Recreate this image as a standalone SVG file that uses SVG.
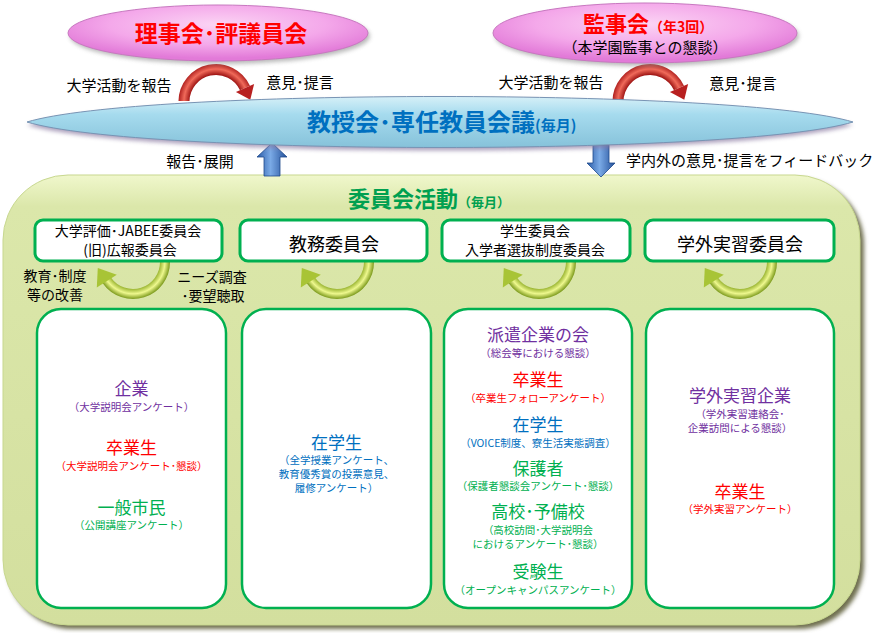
<svg xmlns="http://www.w3.org/2000/svg" xmlns:xlink="http://www.w3.org/1999/xlink" width="879" height="633" viewBox="0 0 879 633">
<style>
text{font-family:"Noto Sans CJK JP","Noto Sans",sans-serif;text-anchor:middle}
.lbl{font-size:15px;fill:#000}
.lbl2{font-size:14px;fill:#000}
.cm{font-size:14px;fill:#000}
.cm1{font-size:18px;fill:#000}
.h{font-size:17px}
.s{font-size:10.5px}
.pu{fill:#7030a0}.rd{fill:#ff0000}.bl{fill:#0070c0}.gr{fill:#00b050}
.box{fill:#fff;stroke:#00b050;stroke-width:3}
.cbox{fill:#fff;stroke:#00b050;stroke-width:2.5}
</style>
<defs>
<filter id="blur" x="-10%" y="-10%" width="120%" height="130%"><feGaussianBlur stdDeviation="2"/></filter>
<radialGradient id="pink" cx="0.5" cy="0.35" r="0.6">
<stop offset="0" stop-color="#fbd4f4"/><stop offset="0.6" stop-color="#f4a8ea"/><stop offset="1" stop-color="#e27ad8"/>
</radialGradient>
<linearGradient id="blue" x1="0" y1="0" x2="0" y2="1">
<stop offset="0" stop-color="#d6f0f8"/><stop offset="0.35" stop-color="#a6dbee"/><stop offset="1" stop-color="#86c2da"/>
</linearGradient>
<linearGradient id="panel" x1="0" y1="0" x2="0" y2="1">
<stop offset="0" stop-color="#f0f7cc"/><stop offset="0.07" stop-color="#dbe7aa"/><stop offset="1" stop-color="#d3df9e"/>
</linearGradient>
<linearGradient id="barrow" x1="0" y1="0" x2="1" y2="0">
<stop offset="0" stop-color="#2a5ca8"/><stop offset="0.45" stop-color="#7aaae6"/><stop offset="1" stop-color="#24509a"/>
</linearGradient>
<radialGradient id="rg" gradientUnits="userSpaceOnUse" cx="0" cy="0" r="38">
<stop offset="0.68" stop-color="#9a1010"/><stop offset="0.84" stop-color="#f06a5a"/><stop offset="1" stop-color="#a81818"/>
</radialGradient>
<radialGradient id="gg" gradientUnits="userSpaceOnUse" cx="0" cy="0" r="37">
<stop offset="0.7" stop-color="#8aa820"/><stop offset="0.86" stop-color="#eef88e"/><stop offset="1" stop-color="#7c9a1c"/>
</radialGradient>
<g id="redArrow">
<path d="M-32,0 A32,32 0 0 1 29,-13" fill="none" stroke="url(#rg)" stroke-width="11"/>
<polygon points="38.1,-17.1 19.9,-8.9 34.3,-1.2" fill="#b82020"/>
</g>
<g id="greenArrow">
<path d="M32,0 A32,32 0 0 1 -26.2,18.4" fill="none" stroke="url(#gg)" stroke-width="10"/>
<polygon points="-16.2,12.8 -36.2,25.4 -35.2,5.9" fill="#a8c436"/>
</g>
</defs>

<g id="panel">
<rect x="7" y="179" width="857" height="450" rx="65" fill="#6f6f50" filter="url(#blur)"/>
<rect x="3" y="175" width="857" height="450" rx="65" fill="url(#panel)" stroke="#c8d890" stroke-width="1"/>
<text x="348" y="207" style="text-anchor:start;font-size:22px;font-weight:bold;fill:#00a050">委員会活動<tspan style="font-size:13px">（毎月）</tspan></text>
</g>

<g id="connectors">
<use xlink:href="#redArrow" transform="translate(216,101)"/>
<use xlink:href="#redArrow" transform="translate(650,101)"/>
<text class="lbl" x="119" y="91">大学活動を報告</text>
<text class="lbl" x="300" y="88">意見･提言</text>
<text class="lbl" x="551" y="88">大学活動を報告</text>
<text class="lbl" x="743" y="89">意見･提言</text>
<polygon points="272,143 287,157 280,157 280,176 264,176 264,157 257,157" fill="url(#barrow)" stroke="#1e4a8c" stroke-width="0.8"/>
<polygon points="593,145 609,145 609,163 615,163 601,177 587,163 593,163" fill="url(#barrow)" stroke="#1e4a8c" stroke-width="0.8"/>
<text class="lbl" x="200" y="167">報告･展開</text>
<text class="lbl" x="626" y="166" style="text-anchor:start">学内外の意見･提言をフィードバック</text>
<use xlink:href="#greenArrow" transform="translate(133,262)"/>
<use xlink:href="#greenArrow" transform="translate(337,262)"/>
<use xlink:href="#greenArrow" transform="translate(539,262)"/>
<use xlink:href="#greenArrow" transform="translate(740,262)"/>
<text class="lbl2" x="55" y="281">教育･制度</text>
<text class="lbl2" x="55" y="300">等の改善</text>
<text class="lbl2" x="212" y="282">ニーズ調査</text>
<text class="lbl2" x="213" y="301">･要望聴取</text>
</g>

<g id="board">
<ellipse cx="220" cy="36" rx="150" ry="28" fill="#8a8a8a" opacity="0.6" filter="url(#blur)"/>
<ellipse cx="218" cy="33" rx="150" ry="28" fill="url(#pink)" stroke="#c878c0" stroke-width="1"/>
<text x="221" y="42" style="font-size:23px;font-weight:bold;fill:#ff0000">理事会･評議員会</text>
</g>

<g id="auditors">
<ellipse cx="647" cy="36" rx="152" ry="30" fill="#8a8a8a" opacity="0.6" filter="url(#blur)"/>
<ellipse cx="645" cy="33" rx="152" ry="30" fill="url(#pink)" stroke="#c878c0" stroke-width="1"/>
<text x="583" y="32" style="text-anchor:start;font-size:22px;font-weight:bold;fill:#ff0000">監事会<tspan style="font-size:14px">（年3回）</tspan></text>
<text x="645" y="53" style="font-size:15px;fill:#000">（本学園監事との懇談）</text>
</g>

<g id="faculty">
<path d="M27,125 C140,91 740,91 853,125 C740,159 140,159 27,125 Z" fill="#8878a0" opacity="0.7" filter="url(#blur)"/>
<path d="M27,122 C140,88 740,88 853,122 C740,156 140,156 27,122 Z" fill="url(#blue)" stroke="#7894b4" stroke-width="1"/>
<text x="307" y="131" style="text-anchor:start;font-size:24px;font-weight:bold;fill:#0070c0">教授会･専任教員会議<tspan style="font-size:15px">(毎月)</tspan></text>
</g>

<g id="c1">
<rect class="box" x="35" y="220" width="187" height="41" rx="8"/>
<text class="cm" x="128" y="236">大学評価･JABEE委員会</text>
<text class="cm" x="130" y="255">(旧)広報委員会</text>
</g>
<g id="c2">
<rect class="box" x="240" y="220" width="187" height="41" rx="8"/>
<text class="cm1" x="334" y="251">教務委員会</text>
</g>
<g id="c3">
<rect class="box" x="442" y="220" width="188" height="41" rx="8"/>
<text class="cm" x="535" y="236">学生委員会</text>
<text class="cm" x="535" y="255">入学者選抜制度委員会</text>
</g>
<g id="c4">
<rect class="box" x="645" y="220" width="189" height="41" rx="8"/>
<text class="cm1" x="740" y="251">学外実習委員会</text>
</g>

<g id="s1">
<rect class="cbox" x="37" y="309" width="189" height="299" rx="24"/>
<text class="h pu" x="131.5" y="395">企業</text>
<text class="s pu" x="131.5" y="411">（大学説明会アンケート）</text>
<text class="h rd" x="131.5" y="454">卒業生</text>
<text class="s rd" x="131.5" y="470">（大学説明会アンケート･懇談）</text>
<text class="h gr" x="131.5" y="514">一般市民</text>
<text class="s gr" x="131.5" y="529">（公開講座アンケート）</text>
</g>

<g id="s2">
<rect class="cbox" x="242" y="309" width="189" height="299" rx="24"/>
<text class="h bl" x="336.5" y="449">在学生</text>
<text class="s bl" x="336.5" y="464">（全学授業アンケート、</text>
<text class="s bl" x="336.5" y="478">教育優秀賞の投票意見、</text>
<text class="s bl" x="336.5" y="492">履修アンケート）</text>
</g>

<g id="s3">
<rect class="cbox" x="444" y="309" width="188" height="299" rx="24"/>
<text class="h pu" x="538" y="341">派遣企業の会</text>
<text class="s pu" x="538" y="357">（総会等における懇談）</text>
<text class="h rd" x="538" y="386">卒業生</text>
<text class="s rd" x="538" y="402">（卒業生フォローアンケート）</text>
<text class="h bl" x="538" y="431">在学生</text>
<text class="s bl" x="538" y="447">（VOICE制度、寮生活実態調査）</text>
<text class="h gr" x="538" y="475">保護者</text>
<text class="s gr" x="538" y="490">（保護者懇談会アンケート･懇談）</text>
<text class="h gr" x="538" y="518">高校･予備校</text>
<text class="s gr" x="538" y="534">（高校訪問･大学説明会</text>
<text class="s gr" x="538" y="548">におけるアンケート･懇談）</text>
<text class="h gr" x="538" y="578">受験生</text>
<text class="s gr" x="538" y="594">（オープンキャンパスアンケート）</text>
</g>

<g id="s4">
<rect class="cbox" x="646" y="309" width="188" height="299" rx="24"/>
<text class="h pu" x="740" y="402">学外実習企業</text>
<text class="s pu" x="740" y="418">（学外実習連絡会･</text>
<text class="s pu" x="740" y="432">企業訪問による懇談）</text>
<text class="h rd" x="740" y="498">卒業生</text>
<text class="s rd" x="740" y="513">（学外実習アンケート）</text>
</g>
</svg>
